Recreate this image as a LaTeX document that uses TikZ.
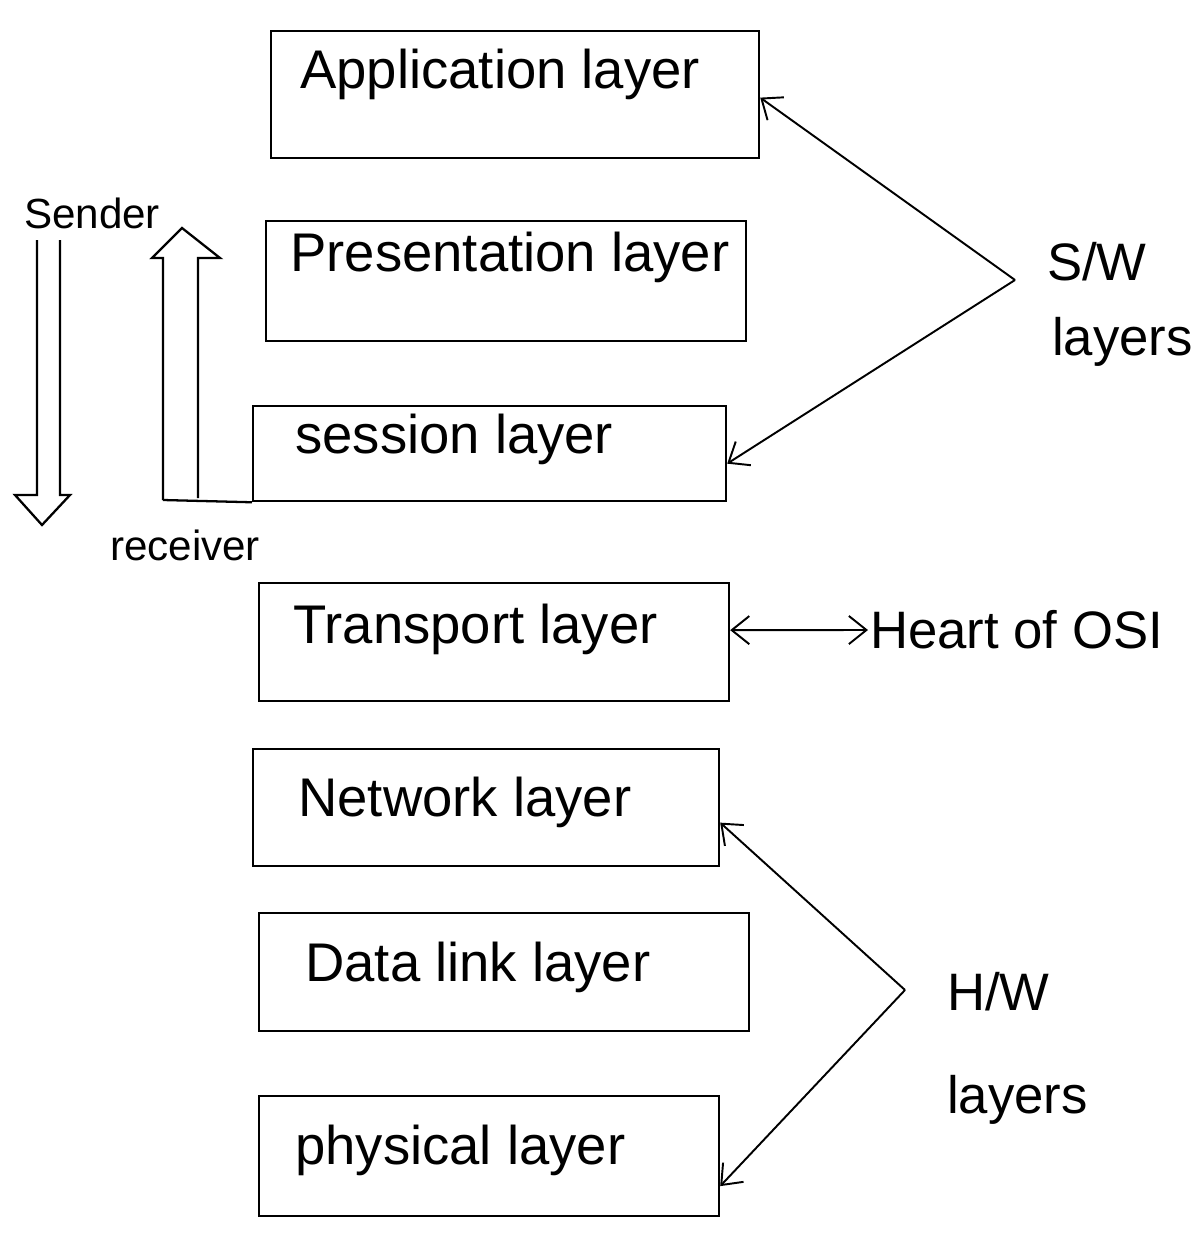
\documentclass[tikz,border=0pt]{standalone}
\usepackage{fontspec}
\setmainfont{Liberation Sans}
\usetikzlibrary{arrows.meta}
\begin{document}
\begin{tikzpicture}[x=0.02cm,y=-0.02cm,
  layerbox/.style={draw, line width=1.3pt, rectangle, anchor=north west, inner sep=0pt},
  ltext/.style={font=\fontsize{31}{35}\selectfont, anchor=west, inner sep=0pt},
  note/.style={font=\fontsize{30}{34}\selectfont, inner sep=1pt},
  small/.style={font=\fontsize{24}{28}\selectfont, inner sep=1pt},
  conn/.style={line width=1.1pt, -{Straight Barb[length=10pt,width=16pt]}},
  biconn/.style={line width=1.1pt, {Straight Barb[length=10pt,width=16pt]}-{Straight Barb[length=10pt,width=16pt]}},
  hollow/.style={line width=1.3pt, line join=miter}]
\useasboundingbox (0,0) rectangle (1200,1258);

% layer boxes
\node[layerbox, minimum width=9.76cm, minimum height=2.54cm] (app) at (270,30) {};
\node[layerbox, minimum width=9.6cm, minimum height=2.4cm] (pres) at (265,220) {};
\node[layerbox, minimum width=9.46cm, minimum height=1.9cm] (sess) at (252,405) {};
\node[layerbox, minimum width=9.4cm, minimum height=2.36cm] (trans) at (258,582) {};
\node[layerbox, minimum width=9.32cm, minimum height=2.34cm] (net) at (252,748) {};
\node[layerbox, minimum width=9.8cm, minimum height=2.36cm] (dl) at (258,912) {};
\node[layerbox, minimum width=9.2cm, minimum height=2.4cm] (phys) at (258,1095) {};

% layer texts
\node[ltext] (tapp) at (300,74) {Application layer};
\node[ltext] (tpres) at (290,257) {Presentation layer};
\node[ltext] (tsess) at (295,439) {session layer};
\node[ltext] (ttrans) at (293,629) {Transport layer};
\node[ltext] (tnet) at (298,802) {Network layer};
\node[ltext] (tdl) at (305,967) {Data link layer};
\node[ltext] (tphys) at (295,1150) {physical layer};

% right side labels
\node[note, anchor=west] (sw1) at (1045,262) {S/W};
\node[note, anchor=west] (sw2) at (1050,342) {layers};
\node[note, anchor=west] (heart) at (868,630) {Heart of OSI};
\node[note, anchor=west] (hw1) at (945,992) {H/W};
\node[note, anchor=west] (hw2) at (945,1100) {layers};

\coordinate (swpt) at (1015,280);
\coordinate (hwpt) at (905,990);

\draw[conn] (swpt) -- ([yshift=-0.06cm]app.east);
\draw[conn] (swpt) -- ([yshift=-0.2cm]sess.east);
\draw[biconn] ([yshift=0.24cm]trans.east) -- (heart.west);
\draw[conn] (hwpt) -- ([yshift=-0.3cm]net.east);
\draw[conn] (hwpt) -- ([yshift=-0.6cm]phys.east);

% sender / receiver
\node[small] (sender) at (92,213) {Sender};
\node[small] (receiver) at (185,545) {receiver};

\draw[hollow] (37,240) -- (37,495) -- (15,495) -- (42,525) -- (70,495) -- (60,495) -- (60,240);
\draw[hollow] (198,498) -- (198,258) -- (220,258) -- (182,228) -- (152,258) -- (163,258) -- (163,500);
\draw[line width=1.3pt] (163,500) -- (sess.south west);
\end{tikzpicture}
\end{document}
